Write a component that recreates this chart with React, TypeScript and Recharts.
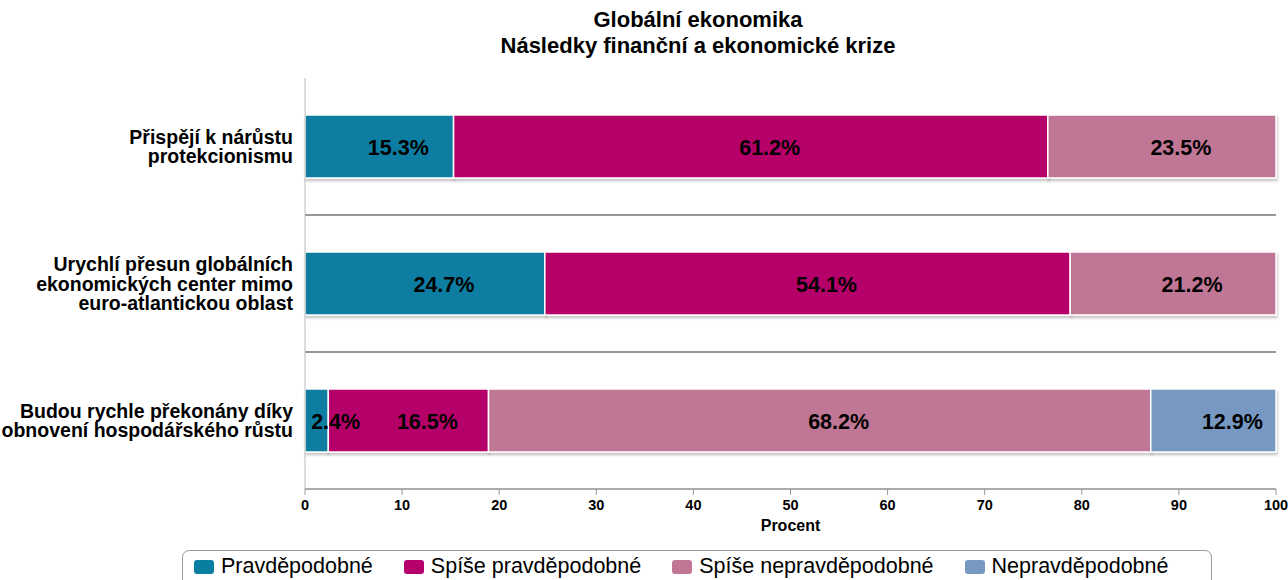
import { BarChart, Bar, XAxis, YAxis, CartesianGrid, Legend, LabelList } from "recharts";

const categories = [
  "Přispějí k nárůstu\nprotekcionismu",
  "Urychlí přesun globálních\nekonomických center mimo\neuro-atlantickou oblast",
  "Budou rychle překonány díky\nobnovení hospodářského růstu",
];

const pravdepodobne = [15.3, 24.7, 2.4];
const spisePravdepodobne = [61.2, 54.1, 16.5];
const spiseNepravdepodobne = [23.5, 21.2, 68.2];
const nepravdepodobne = [0, 0, 12.9];

const xTicks = [0, 10, 20, 30, 40, 50, 60, 70, 80, 90, 100];

const series = [
  { key: "p", name: "Pravděpodobné", color: "#0a7ea1" },
  { key: "sp", name: "Spíše pravděpodobné", color: "#b5006b" },
  { key: "sn", name: "Spíše nepravděpodobné", color: "#c07795" },
  { key: "n", name: "Nepravděpodobné", color: "#7799c1" },
];

const data = categories.map((cat, i) => ({
  cat,
  p: pravdepodobne[i],
  sp: spisePravdepodobne[i],
  sn: spiseNepravdepodobne[i],
  n: nepravdepodobne[i] || null,
}));

const FONT = "'Liberation Sans', Arial, sans-serif";

function CategoryTick(props: any) {
  const { x, y, payload } = props;
  const lines = String(payload.value).split("\n");
  const lh = 19.5;
  const start = -((lines.length - 1) * lh) / 2;
  return (
    <text x={x} y={y} textAnchor="end" fontFamily={FONT} fontSize={19.5} fontWeight="bold" fill="#000">
      {lines.map((l, i) => (
        <tspan key={i} x={x} dy={i === 0 ? start + 7 : lh}>
          {l}
        </tspan>
      ))}
    </text>
  );
}

function BarLabel(props: any) {
  const { x, y, width, height, value } = props;
  if (value == null || value === 0) return null;
  return (
    <text
      x={x + width / 2 + 19}
      y={y + height / 2 + 8}
      textAnchor="middle"
      fontFamily={FONT}
      fontSize={21.5}
      fontWeight="bold"
      fill="#000"
    >
      {Number(value).toFixed(1)}%
    </text>
  );
}

function LegendBox() {
  return (
    <div
      style={{
        boxSizing: "border-box",
        height: 44,
        border: "1px solid #9a9a9a",
        borderRadius: 7,
        display: "flex",
        alignItems: "flex-start",
        paddingTop: 3,
        paddingLeft: 11,
        fontFamily: FONT,
        fontSize: 21.5,
        lineHeight: "25px",
        color: "#000",
      }}
    >
      {series.map((s) => (
        <div key={s.key} style={{ display: "flex", alignItems: "center", marginRight: 31 }}>
          <span
            style={{
              display: "inline-block",
              width: 20,
              height: 14,
              borderRadius: 3,
              background: s.color,
              marginRight: 7,
            }}
          />
          <span>{s.name}</span>
        </div>
      ))}
    </div>
  );
}

export default function App() {
  return (
    <div style={{ position: "absolute", left: 0, top: 0, width: 1288, height: 580, overflow: "hidden", background: "#fff" }}>
      <div
        style={{
          position: "absolute",
          left: 0,
          width: 1396,
          top: 7,
          textAlign: "center",
          fontFamily: FONT,
          fontWeight: "bold",
          fontSize: 22,
          lineHeight: "26px",
          zIndex: 2,
        }}
      >
        <div>Globální ekonomika</div>
        <div>Následky finanční a ekonomické krize</div>
      </div>
      <BarChart
        width={1288}
        height={580}
        data={data}
        layout="vertical"
        margin={{ top: 78, right: 12, bottom: 61, left: 0 }}
        barSize={63}
      >
        <defs>
          <filter id="barShadow" x="-5%" y="-20%" width="110%" height="150%">
            <feDropShadow dx="1" dy="2.5" stdDeviation="1" floodColor="#000" floodOpacity="0.22" />
          </filter>
        </defs>
        <CartesianGrid
          vertical={false}
          stroke="#333"
          strokeWidth={1}
          horizontalCoordinatesGenerator={({ offset }: any) =>
            categories.slice(1).map((_, i) => offset.top + (offset.height * (i + 1)) / categories.length)
          }
        />
        <XAxis
          type="number"
          domain={[0, 100]}
          ticks={xTicks}
          interval={0}
          height={30}
          axisLine={{ stroke: "#555" }}
          tickLine={{ stroke: "#999" }}
          tickSize={6}
          tickMargin={5}
          tick={{ fill: "#000", fontSize: 14.5, fontWeight: "bold", fontFamily: FONT }}
          label={{
            value: "Procent",
            position: "insideBottom",
            offset: -12,
            fill: "#000",
            fontSize: 16,
            fontWeight: "bold",
            fontFamily: FONT,
          }}
        />
        <YAxis
          type="category"
          dataKey="cat"
          width={305}
          axisLine={{ stroke: "#bbb" }}
          tickLine={false}
          tickSize={0}
          tickMargin={12}
          tick={<CategoryTick />}
        />
        <Legend
          layout="horizontal"
          verticalAlign="middle"
          align="center"
          wrapperStyle={{ left: 182, top: 550, width: 1030 }}
          content={<LegendBox />}
        />
        {series.map((s) => (
          <Bar
            key={s.key}
            dataKey={s.key}
            name={s.name}
            stackId="a"
            fill={s.color}
            stroke="#fff"
            strokeWidth={1.5}
            filter="url(#barShadow)"
            isAnimationActive={false}
          >
            <LabelList dataKey={s.key} content={<BarLabel />} />
          </Bar>
        ))}
      </BarChart>
    </div>
  );
}
